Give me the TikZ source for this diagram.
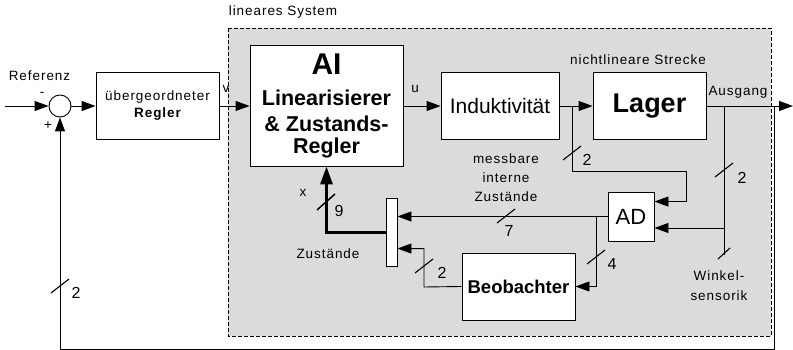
\documentclass[tikz,border=0pt]{standalone}
\usepackage{fontspec}
\setmainfont[LetterSpace=7]{Liberation Sans}
\newfontfamily\pf{Liberation Sans}
\usetikzlibrary{arrows.meta,calc}
\begin{document}
\begin{tikzpicture}[x=1pt,y=-1pt,
  blk/.style={draw,fill=white,line width=0.9pt,inner sep=0pt},
  ln/.style={line width=0.9pt},
  arr/.style={ln,-{Triangle[length=14pt,width=10pt]}},
  lbl/.style={font=\fontsize{13.5}{15}\selectfont,inner sep=0pt},
  num/.style={font=\fontsize{16}{18}\selectfont,inner sep=0pt},
  tickmark/.style={line width=1.1pt},
  ]
\useasboundingbox (0,0) rectangle (793,350);
% linear system region
\draw[line width=0.9pt,dash pattern=on 4pt off 2pt,fill=black!14] (228,28) rectangle (771,336);
\node[lbl] (lin) at (283,12) {lineares System};

% blocks
\node[draw,circle,line width=0.9pt,minimum size=22pt,inner sep=0pt] (sum) at (60,106) {};
\node[blk,minimum width=123pt,minimum height=67pt] (reg) at (157.5,106) {};
\node[blk,minimum width=153pt,minimum height=121pt] (ai) at (326.5,105.5) {};
\node[blk,minimum width=118pt,minimum height=67pt] (ind) at (500,106) {};
\node[blk,minimum width=113pt,minimum height=67pt] (lager) at (649.5,106) {};
\node[blk,minimum width=46pt,minimum height=49pt] (ad) at (631,216.5) {};
\node[blk,minimum width=113pt,minimum height=67pt] (beo) at (518.5,286.5) {};
\node[blk,minimum width=11pt,minimum height=68pt] (mux) at (391.5,232) {};

% block texts
\node[lbl] (t1) at (157.5,97) {übergeordneter};
\node[lbl,font=\fontsize{13.5}{15}\selectfont\bfseries] (t2) at (157.5,114) {Regler};
\node[inner sep=0pt,font=\pf\fontsize{30}{32}\selectfont\bfseries] (t3) at (326.5,64) {AI};
\node[inner sep=0pt,font=\pf\fontsize{21.5}{24}\selectfont\bfseries] (t4) at (326.5,98) {Linearisierer};
\node[inner sep=0pt,font=\pf\fontsize{21.5}{24}\selectfont\bfseries] (t5) at (326.5,124) {\& Zustands-};
\node[inner sep=0pt,font=\pf\fontsize{21.5}{24}\selectfont\bfseries] (t6) at (326.5,148) {Regler};
\node[inner sep=0pt,font=\pf\fontsize{21}{24}\selectfont] (t7) at (500,106) {Induktivität};
\node[inner sep=0pt,font=\pf\fontsize{27}{30}\selectfont\bfseries] (t8) at (649.5,106) {Lager};
\node[inner sep=0pt,font=\pf\fontsize{22}{24}\selectfont] (t9) at (631,216.5) {AD};
\node[inner sep=0pt,font=\pf\fontsize{18.5}{20}\selectfont\bfseries] (t10) at (518.5,286.5) {Beobachter};

% labels
\node[lbl] (ref) at (39.5,76) {Referenz};
\node[lbl] (minus) at (42,94) {-};
\node[lbl] (plus) at (48,126) {+};
\node[lbl] (lv) at (226,89) {v};
\node[lbl] (lu) at (415,89) {u};
\node[lbl] (lx) at (303,193) {x};
\node[lbl] (nls) at (638,60) {nichtlineare Strecke};
\node[lbl] (aus) at (738,92) {Ausgang};
\node[lbl] (mb1) at (506,159) {messbare};
\node[lbl] (mb2) at (506,178) {interne};
\node[lbl] (mb3) at (506,197) {Zustände};
\node[lbl] (zus) at (328,254) {Zustände};
\node[lbl] (wk1) at (719,276) {Winkel-};
\node[lbl] (wk2) at (719,296) {sensorik};
\node[num] (n1) at (587,160) {2};
\node[num] (n2) at (742,178) {2};
\node[num] (n3) at (509,231) {7};
\node[num] (n4) at (612,264) {4};
\node[num] (n5) at (442,273) {2};
\node[num] (n6) at (339,211) {9};
\node[num] (n7) at (76,293) {2};

% coordinates
\coordinate (in) at (5,106);
\coordinate (out) at (793,106);
\coordinate (fb) at (774,106);
\coordinate (fbb) at (774,349);
\coordinate (b1) at (572,106);
\coordinate (b1d) at (572,171);
\coordinate (b1r) at (686,171);
\coordinate (b2) at (724,106);
\coordinate (b2e) at (724,255);
\coordinate (b2m) at (724,228);
\coordinate (b3) at (596,216.5);
\coordinate (bm) at (424,287);

% main path
\draw[arr] (in) -- (sum.west);
\draw[arr] (sum.east) -- (reg.west);
\draw[arr] (reg.east) -- (ai.west |- reg.east);
\draw[arr] (ai.east |- ind.west) -- (ind.west);
\draw[arr] (ind.east) -- (lager.west);
\draw[arr] (lager.east) -- (out);
\draw[arr] (fb) -- (fbb) -| (sum.south);

% measured internal states
\draw[arr] (b1) -- (b1d) -- (b1r) |- ($(ad.north east)+(0,10)$);
\draw[ln] (b2) -- (b2e);
\draw[arr] (b2m) -- (ad.east |- b2m);
\draw[arr] (ad.west) -- (mux.east |- ad.west);
\draw[arr] (b3) |- (beo.east);
\draw[arr] (beo.west) -- (bm) |- ($(mux.north east)+(0,51)$);
\draw[line width=3pt,-{Triangle[length=18pt,width=12pt]}] (mux.west) -| (ai.south);

% bus width ticks
\draw[tickmark] (563,160) -- (581,146);
\draw[tickmark] (715,177) -- (733,163);
\draw[tickmark] (718,259) -- (730,248);
\draw[tickmark] (497,223) -- (515,209);
\draw[tickmark] (587,264) -- (605,250);
\draw[tickmark] (415,273) -- (433,259);
\draw[line width=1.5pt] (317,210) -- (335,194);
\draw[tickmark] (51,293) -- (69,279);
\end{tikzpicture}
\end{document}
